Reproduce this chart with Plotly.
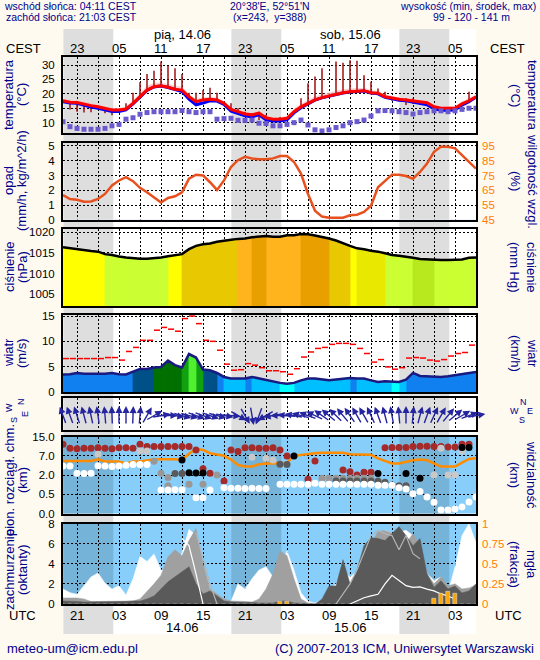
import numpy as np
import pandas as pd
import plotly.graph_objects as go

# ---------------- DATA ----------------
times = pd.date_range("2013-06-13 19:00", periods=60, freq="h")      # UTC
grid_times = pd.date_range("2013-06-13 21:00", "2013-06-16 03:00", freq="3h")
label_times = pd.date_range("2013-06-13 21:00", "2013-06-16 03:00", freq="6h")
cest_labels = ["23", "05", "11", "17", "23", "05", "11", "17", "23", "05"]
utc_labels = ["21", "03", "09", "15", "21", "03", "09", "15", "21", "03"]
day_centers = ["2013-06-14 12:00", "2013-06-15 12:00"]
day_labels_top = ["pią, 14.06", "sob, 15.06"]
day_labels_bottom = ["14.06", "15.06"]
sunset_utc = ["2013-06-13 19:03", "2013-06-14 19:03", "2013-06-15 19:03"]
sunrise_utc = ["2013-06-14 02:11", "2013-06-15 02:11", "2013-06-16 02:11"]

temp = [17.6,17.1,17.0,16.4,15.9,15.5,15.0,14.4,14.4,14.7,16.7,19.0,21.3,22.5,22.8,22.3,21.6,21.3,19.0,17.3,
        17.9,18.1,17.9,16.7,14.6,13.8,13.0,12.7,13.3,11.7,11.2,11.2,11.5,13.8,15.5,16.7,17.9,18.7,19.3,20.0,
        20.4,20.7,21.0,21.1,20.4,20.2,19.0,18.5,18.1,17.9,17.6,17.3,16.9,15.5,15.0,15.0,15.0,16.5,17.6,19.0]
temp_ground = [17.3,16.8,16.7,16.0,15.4,15.0,14.5,13.9,13.9,14.4,16.5,18.9,21.2,22.4,22.7,22.2,21.4,20.8,18.2,16.2,
               16.8,17.6,17.5,16.3,14.0,13.2,12.4,12.0,12.7,11.0,10.6,10.6,11.0,13.4,15.2,16.5,17.8,18.6,19.2,19.9,
               20.3,20.6,20.9,21.0,20.3,20.0,18.8,18.2,17.8,17.6,17.2,16.8,16.2,14.8,14.3,14.3,14.4,16.1,17.3,18.8]
temp_spread_hi = [18.3,17.9,17.8,17.2,16.6,16.2,15.7,15.1,15.1,15.6,17.8,20.3,22.8,23.8,23.9,23.4,22.8,22.5,20.0,18.2,
                  18.8,19.0,18.7,17.4,15.3,14.5,13.7,13.4,14.0,12.4,11.9,11.9,12.3,14.8,16.6,17.9,19.1,19.9,20.5,21.2,
                  21.6,21.9,22.1,22.1,21.3,21.0,19.8,19.2,18.8,18.6,18.3,18.0,17.6,16.2,15.7,15.7,15.7,17.3,18.5,19.8]
temp_spread_lo = [17.0,16.5,16.4,15.7,15.1,14.7,14.2,13.6,13.6,14.1,16.2,18.6,20.9,22.1,22.4,21.9,21.1,20.5,17.9,15.9,
                  16.5,17.3,17.2,16.0,13.7,12.9,12.1,11.7,12.4,10.7,10.3,10.3,10.7,13.1,14.9,16.2,17.5,18.3,18.9,19.6,
                  20.0,20.3,20.6,20.7,20.0,19.7,18.5,17.9,17.5,17.3,16.9,16.5,15.9,14.5,14.0,14.0,14.1,15.8,17.0,18.5]
dew_point = [10.3,8.6,8.0,7.7,7.7,7.7,8.0,8.9,9.4,11.2,11.7,12.9,13.5,13.8,13.8,13.8,13.8,14.2,13.8,13.5,
             13.8,13.8,11.2,11.4,11.5,10.8,10.8,10.9,9.8,9.7,8.9,8.9,9.4,10.0,10.9,9.2,7.5,7.1,7.5,8.3,
             8.9,10.0,10.35,10.9,12.3,14.1,14.2,14.1,13.8,13.5,13.0,13.5,13.8,14.1,14.1,13.8,14.1,14.6,15.0,15.0]
# range bars (hour index, low, high)
temp_range = [(1,14.6,17.1),(2,13.8,17.0),(3,13.5,16.4),(4,13.6,15.9),(6,13.3,15.0),(7,12.6,14.4),(9,14.7,16.7),
              (10,16.7,20.4),(11,19.0,24.0),(12,21.3,26.9),(13,22.5,28.0),(14,22.8,31.2),(15,22.3,29.7),
              (16,21.6,28.9),(17,21.3,26.9),(18,19.0,20.4),(19,17.3,20.4),(20,17.9,21.3),(21,18.1,22.1),
              (22,17.9,20.4),(24,13.8,16.7),(25,12.7,15.0),(26,12.4,13.8),(27,11.2,13.3),(28,10.9,13.8),
              (29,9.8,12.7),(31,10.5,12.0),(34,15.5,18.5),(35,16.7,23.7),(36,17.9,26.0),(37,18.7,28.9),
              (39,20.0,31.2),(40,20.4,30.8),(41,20.7,31.7),(42,21.0,31.5),(43,21.1,26.5),(44,20.4,24.2),
              (45,20.2,21.9),(46,19.0,20.7),(47,17.6,18.5),(49,16.1,18.5),(50,16.5,18.5),(51,16.1,17.3),
              (58,17.6,20.7)]

precip = [0.0] * 60
humidity = [61.9,59.2,58.7,57.3,57.5,59.2,62.6,68.3,71.7,74.0,71.2,66.7,63.7,60.3,56.8,59.9,61.0,63.7,72.9,75.6,
            75.1,70.5,65.3,71.7,80.8,85.4,87.7,86.6,86.0,86.0,86.6,88.2,88.2,84.2,76.3,62.6,51.2,47.3,46.6,46.6,
            46.6,48.2,48.6,50.5,54.6,67.1,71.7,75.6,75.6,74.7,72.9,77.4,83.1,91.1,94.5,94.5,93.4,88.8,84.7,79.7]

pressure = [1016.35,1016.1,1015.9,1015.7,1015.45,1015.3,1014.7,1014.5,1014.1,1013.9,1013.7,1013.6,1013.6,1013.7,
            1013.9,1014.2,1014.5,1014.7,1015.9,1016.7,1017.1,1017.3,1017.7,1018.0,1018.2,1018.4,1018.5,1018.8,
            1018.9,1019.1,1018.9,1018.9,1019.3,1019.3,1019.6,1019.5,1019.2,1018.9,1018.5,1018.0,1017.3,1016.7,
            1016.1,1015.9,1015.5,1015.3,1014.9,1014.5,1014.3,1014.1,1013.8,1013.5,1013.4,1013.3,1013.3,1013.3,
            1013.3,1013.4,1013.8,1013.9]
# fill class of each hourly interval (0..6)
pressure_class = [0,0,0,0,0,0,1,1,1,1,1,1,1,1,1,0,0,4,4,4,4,4,4,4,4,5,5,6,6,5,5,5,5,5,6,6,6,6,4,4,4,0,3,3,3,3,
                  1,1,1,1,2,2,2,1,1,1,1,1,1]

wind = [3.45,3.5,3.77,3.6,3.6,3.6,3.6,3.77,3.5,3.45,3.96,4.55,4.55,4.83,4.95,6.2,5.3,4.83,7.5,6.8,
        4.43,4.3,3.77,2.97,2.65,2.65,2.65,2.97,2.65,2.3,2.1,1.8,1.65,1.8,2.3,2.65,2.65,2.45,2.3,2.45,
        2.65,2.77,2.65,2.65,2.3,1.98,2.1,1.98,1.98,2.45,3.77,3.17,3.1,2.97,2.97,3.1,3.3,3.64,3.77,3.96]
wind_class = [2,2,2,2,2,2,2,2,2,2,3,3,3,4,4,4,4,5,6,5,3,3,2,1,1,1,2,1,1,1,1,0,0,1,1,1,1,1,1,1,1,2,1,1,1,1,
              1,0,1,2,2,2,2,2,2,2,2,2,2]
gust = [6.6,6.6,6.6,6.6,6.6,6.6,6.8,6.8,6.3,8.0,8.8,10.2,10.2,12.2,12.75,12.4,12.0,14.5,15.0,13.5,10.2,10.0,
        8.25,5.5,4.3,4.4,5.6,5.3,4.8,4.2,4.2,4.0,3.5,4.6,6.9,7.9,8.6,8.8,9.4,9.6,9.6,9.4,8.6,7.6,5.9,6.4,
        4.95,4.5,4.8,6.7,6.8,6.7,6.3,6.1,6.4,7.1,7.6,7.8,9.25]
wind_dir = [160,160,162,165,168,172,175,178,180,180,182,185,210,240,260,270,280,285,285,290,290,290,285,280,
            275,300,330,350,20,60,80,90,95,100,105,110,115,125,130,135,140,145,150,150,155,160,165,170,175,180,
            185,195,200,205,210,220,230,240,250,260]

visibility = [16,16,16,16,16,17.3,15.5,15.5,15.5,14,15.5,15.5,16.7,17.3,17.3,17.3,17.3,16.7,28,48.8,
              44,30.4,24,20,17,12.8,11.6,11.6,13.3,14,14,14,14.5,19.9,24,28,30.4,32.8,32.8,32.8,
              32.8,26.4,26.4,26.4,24,18,16,14,14,15.2,16.5,17,16.5,14,11.6,11.6,11.6,14.6,17.5,18]
cb_red = [(0,11.8),(1,10.1),(2,9.9),(3,10.1),(4,10.1),(5,10.3),(6,10.1),(7,9.9),(8,10.3),(9,10.3),(10,10.1),
          (11,11.8),(12,10.8),(13,10.8),(14,10.8),(15,10.8),(16,10.8),(17,10.8),(18,10.8),(19,9.4),(20,3.6),
          (21,2.45),(23,1.54),(24,9.4),(25,8.8),(26,10.3),(27,10.3),(28,10.1),(29,10.1),(30,10.3),(31,9.4),
          (32,6.95),(35,1.66),(36,5.65),(40,3.3),(41,2.85),(42,2.0),(43,2.7),(44,2.7),(46,10.3),(47,10.4),
          (48,10.4),(49,10.4),(50,10.8),(51,10.9),(52,10.9),(53,10.8),(54,10.8),(55,10.6),(56,10.6),(57,11.8),(58,11.8)]
cb_lgrey = [(5,7.6),(11,9.0),(12,9.0),(27,6.6),(29,6.35),(30,5.9),(53,2.0),(54,10.1),(55,2.0),(56,2.0),(57,9.0)]
cb_grey = [(13,5.6),(14,2.45),(15,1.8),(15,1.17),(18,1.27),(20,1.27),(22,2.0),(37,1.74),(38,1.74),(39,1.74),
           (40,1.74),(41,1.74),(42,1.74),(43,1.74),(44,1.74)]
cb_dgrey = [(16,2.4),(17,2.4),(31,4.8),(32,4.7),(39,1.54),(40,1.54),(41,1.54),(42,1.54),(43,1.54),(44,1.54),
            (45,1.54),(46,1.43),(47,1.22),(48,1.17),(49,1.17)]
cb_black = [(17,5.9),(18,2.6),(19,2.5),(20,2.5),(33,6.95),(45,2.4),(49,2.4),(51,1.74),(57,10.4),(58,10.4)]
cb_white = [(0,4.35),(1,4.35),(2,2.45),(3,2.4),(4,2.45),(5,4.4),(6,4.35),(7,4.2),(8,4.35),(9,4.55),(10,4.7),
            (11,4.7),(12,4.7),(14,0.83),(15,0.83),(16,0.85),(17,0.85),(19,0.41),(20,0.41),(21,0.83),(23,1.0),
            (24,0.97),(25,0.97),(26,0.95),(27,0.97),(28,0.95),(29,0.95),(31,1.27),(32,1.27),(33,1.27),(34,1.27),
            (35,1.27),(36,1.35),(37,1.27),(38,1.27),(39,1.27),(40,1.27),(41,1.27),(42,1.27),(43,1.27),(44,1.27),
            (45,1.2),(46,1.2),(47,1.2),(48,1.0),(49,0.9),(50,0.53),(51,0.72),(52,0.43),(53,0.29),(54,0.09),
            (55,0.09),(56,0.115),(57,0.17),(58,0.3),(59,0.43)]
cb_ticks_km = [0.0, 0.5, 2.0, 7.0, 15.0]
vis_ticks_km = [0, 1, 5, 20, 100]

cloud_total = [1.48,1.13,0.96,1.82,2.68,3.09,2.06,1.48,1.82,0.89,2.5,4.74,4.23,4.98,3.37,3.37,3.44,5.09,7.42,6.8,
               3.71,1.48,0.79,0.1,0.27,1.99,1.48,2.51,3.37,3.71,2.68,3.78,5.26,3.37,1.13,0.27,0.1,0.45,1.48,1.99,
               3.2,2.68,3.2,4.91,6.53,6.63,7.32,6.98,7.15,7.32,6.8,5.6,3.02,2.34,2.68,1.13,3.71,6.8,8.0,6.1]
cloud_high = [0.6,0.6,0.6,0.5,0.25,0.25,0.25,0.25,0.25,0.25,0.3,0.5,1.2,2.0,2.85,4.7,5.4,4.8,6.3,7.5,
              4.0,1.5,1.0,0.5,0.3,0.3,0.25,0.2,0.5,1.5,3.0,5.3,4.8,2.5,0.5,0.1,0.05,0.1,0.5,1.5,
              2.5,1.0,2.0,3.5,6.0,7.2,7.3,7.0,6.7,6.0,7.0,5.8,3.0,2.0,2.7,1.8,2.0,1.5,1.6,1.9]
cloud_low = [0.3,0.3,0.25,0.2,0.2,0.2,0.2,0.2,0.2,0.25,0.3,0.3,0.5,0.8,1.5,2.2,2.7,3.2,3.7,2.0,
             1.0,1.3,0.8,0.3,0.2,0.2,0.2,0.15,0.1,0.1,0.1,0.3,0.3,0.1,0.05,0.0,0.0,0.5,1.8,1.8,
             4.4,2.0,3.4,5.8,6.6,6.5,6.3,7.0,7.7,6.8,5.8,6.5,3.0,1.65,2.3,1.5,1.8,1.1,1.3,2.0]
_ = None
cloud_line_white = [_,_,_,_,_,_,_,_,_,_,_,_,_,_,_,_,_,6.5,5.8,3.0,0.0,_,_,_,_,_,_,_,_,_,
                    _,_,_,_,_,_,_,_,_,_,_,0.0,0.3,0.62,0.8,0.96,2.0,2.85,2.34,1.82,1.65,1.7,1.48,1.3,1.0,0.79,0.5,_,_,_]
cloud_line_grey = [_,_,_,_,_,_,_,_,_,_,_,_,_,_,_,_,_,_,_,7.1,4.5,2.0,0.0,_,_,_,_,_,_,_,
                   _,_,_,_,_,_,_,_,_,0.0,0.96,2.0,3.37,5.0,6.8,7.3,7.0,6.8,5.4,6.8,5.0,4.5,_,_,_,_,_,_,_,_]
fog = [0,0,0,0,0,0,0,0,0,0,0,0,0,0,0,0,0,0,0,0,0,0,0,0,0,0,0,0,0,0,0,0.026,0.026,0,0,0,0,0,0,0,
       0,0,0,0,0,0,0,0,0,0,0,0,0,0.064,0.13,0.155,0.13,0,0,0]

# ---------------- STYLE / LAYOUT ----------------
W, H = 540, 660
FONT = "Liberation Sans, Arial, sans-serif"
NAVY = "#00008B"
ORANGE = "#FF8000"
BG = "#FFFAF0"
DASH = "2px,2px"
TICK = 11.5
XDOM = [63 / W, 476 / W]
PANELS = {1: (57, 133), 2: (143, 220), 3: (229, 306), 4: (315, 392), 5: (398, 430), 6: (436.5, 513.5), 7: (523.5, 604)}
TOP, BOTTOM = 29, 634

def ydom(k):
    a, b = PANELS[k]
    return [1 - b / H, 1 - a / H]

def pick(seq, idx):
    return [seq[i] for i in idx]

fig = go.Figure()

# --- panel 1: temperature
fig.add_trace(go.Scatter(x=times, y=temp_spread_lo, mode="lines", line=dict(width=0), xaxis="x", yaxis="y", hoverinfo="skip"))
fig.add_trace(go.Scatter(x=times, y=temp_spread_hi, mode="lines", line=dict(width=0), fill="tonexty",
                         fillcolor="rgba(255,190,190,0.75)", xaxis="x", yaxis="y", hoverinfo="skip"))
rx, ry = [], []
for h, lo, hi in temp_range:
    rx += [times[h], times[h], None]
    ry += [lo, hi, None]
fig.add_trace(go.Scatter(x=rx, y=ry, mode="lines", line=dict(color="#A01010", width=1.5), xaxis="x", yaxis="y"))
fig.add_trace(go.Scatter(x=times, y=temp_ground, mode="lines", line=dict(color="#0000FF", width=3), xaxis="x", yaxis="y"))
fig.add_trace(go.Scatter(x=times, y=temp, mode="lines", line=dict(color="#FF0000", width=3), xaxis="x", yaxis="y"))
fig.add_trace(go.Scatter(x=times, y=dew_point, mode="markers", marker=dict(symbol="square", size=5, color="#6A5ACD"),
                         xaxis="x", yaxis="y"))

# --- panel 2: precipitation (zero) + humidity
fig.add_trace(go.Bar(x=times, y=precip, marker_color="#00A000", xaxis="x2", yaxis="y2"))
fig.add_trace(go.Scatter(x=times, y=humidity, mode="lines", line=dict(color="#E8501E", width=2.5), xaxis="x2", yaxis="y9"))

# --- helper for class-coloured area under a curve
def class_area(vals, classes, palette, base, xa, ya):
    groups = {}
    for i in range(len(times) - 1):
        gx, gy = groups.setdefault(classes[i], ([], []))
        gx += [times[i], times[i], times[i + 1], times[i + 1], times[i], None]
        gy += [base, vals[i], vals[i + 1], base, base, None]
    for c, (gx, gy) in groups.items():
        fig.add_trace(go.Scatter(x=gx, y=gy, mode="lines", fill="toself", fillcolor=palette[c],
                                 line=dict(color=palette[c], width=0.8), xaxis=xa, yaxis=ya, hoverinfo="skip"))

# --- panel 3: pressure
P_RANGE = [1002.1, 1020.8]
p_palette = ["#FFFF00", "#CCFF33", "#B8E81E", "#E8E800", "#E8C800", "#FFB41E", "#E8A000"]
class_area(pressure, pressure_class, p_palette, P_RANGE[0], "x3", "y3")
fig.add_trace(go.Scatter(x=times, y=pressure, mode="lines", line=dict(color="black", width=2.5), xaxis="x3", yaxis="y3"))

# --- panel 4: wind
w_palette = ["#00FFFF", "#00BFFF", "#1080F0", "#005088", "#007000", "#10A010", "#50F030"]
class_area(wind, wind_class, w_palette, 0, "x4", "y4")
fig.add_trace(go.Scatter(x=times, y=wind, mode="lines", line=dict(color="#1A1A80", width=2.5), xaxis="x4", yaxis="y4"))
gx, gy = [], []
for i, g in enumerate(gust):
    gx += [times[i], times[i] + pd.Timedelta(minutes=52), None]
    gy += [g, g, None]
fig.add_trace(go.Scatter(x=gx, y=gy, mode="lines", line=dict(color="#FF0000", width=1.5), xaxis="x4", yaxis="y4"))

# --- panel 6: cloud base / visibility
def cb_pos(v):
    return list(np.interp(v, cb_ticks_km, [0, 1, 2, 3, 4]))

fig.add_trace(go.Scatter(x=times, y=list(np.interp(visibility, vis_ticks_km, [0, 1, 2, 3, 4])), mode="lines",
                         line=dict(color="#FF8C00", width=2.5), xaxis="x6", yaxis="y6"))
for pts, col in [(cb_red, "#A52A2A"), (cb_lgrey, "#C8C8C8"), (cb_grey, "#989898"), (cb_dgrey, "#5A5A5A"),
                 (cb_black, "#000000"), (cb_white, "#FFFFFF")]:
    hh = [p[0] for p in pts]
    kk = [p[1] for p in pts]
    fig.add_trace(go.Scatter(x=pick(times, hh), y=cb_pos(kk), mode="markers",
                             marker=dict(size=7, color=col, line=dict(width=0)), xaxis="x6", yaxis="y6"))

# --- panel 7: cloud cover / fog
for vals, col in [(cloud_total, "#FFFFFF"), (cloud_high, "#A0A0A0"), (cloud_low, "#5A5A5A")]:
    fig.add_trace(go.Scatter(x=times, y=vals, mode="lines", fill="tozeroy", fillcolor=col,
                             line=dict(color=col, width=0.5), xaxis="x7", yaxis="y7", hoverinfo="skip"))
fig.add_trace(go.Scatter(x=times, y=cloud_line_grey, mode="lines", line=dict(color="#B4B4B4", width=1.2),
                         connectgaps=False, xaxis="x7", yaxis="y7"))
fig.add_trace(go.Scatter(x=times, y=cloud_line_white, mode="lines", line=dict(color="#FFFFFF", width=1.2),
                         connectgaps=False, xaxis="x7", yaxis="y7"))
fig.add_trace(go.Bar(x=times, y=fog, width=0.55 * 3600e3, marker_color="#FFA500", xaxis="x7", yaxis="y14"))

# ---------------- AXES ----------------
lay = dict(width=W, height=H, margin=dict(l=0, r=0, t=0, b=0, autoexpand=False), paper_bgcolor=BG,
           plot_bgcolor="rgba(0,0,0,0)", showlegend=False, bargap=0,
           font=dict(family=FONT, size=12, color="black"))

for k in range(1, 8):
    xn = "xaxis" if k == 1 else f"xaxis{k}"
    lay[xn] = dict(domain=XDOM, anchor="y" if k == 1 else f"y{k}", range=[times[0], times[-1]], type="date",
                   tickmode="array", tickvals=list(grid_times), showgrid=True, gridcolor="black", griddash=DASH,
                   gridwidth=1, showline=True, linecolor="black", linewidth=2, mirror=True, ticks="",
                   zeroline=False, showticklabels=False)

def yax(k, rng, tv, tt=None, grid=True):
    d = dict(domain=ydom(k), anchor="x" if k == 1 else f"x{k}", range=rng, tickmode="array", tickvals=tv,
             showgrid=grid, gridcolor="black", griddash=DASH, gridwidth=1, showline=True, linecolor="black",
             linewidth=2, mirror=True, ticks="", zeroline=False, tickfont=dict(size=TICK), ticklabelstandoff=4)
    if tt is not None:
        d["ticktext"] = tt
    if not tv:
        d["showticklabels"] = False
    return d

def yright(k, rng, tv, tt=None, color="black"):
    d = dict(domain=ydom(k), anchor="x" if k == 1 else f"x{k}", overlaying="y" if k == 1 else f"y{k}",
             side="right", range=rng, tickmode="array", tickvals=tv, showgrid=False, zeroline=False,
             showline=False, ticks="", tickfont=dict(size=TICK, color=color), ticklabelstandoff=5)
    if tt is not None:
        d["ticktext"] = tt
    return d

T_RANGE = [6.4, 32.8]
R_RANGE = [0, 5.2]
W_RANGE = [0, 15.2]
t_ticks = [10, 15, 20, 25, 30]
r_ticks = [0, 1, 2, 3, 4, 5]
h_ticks = [45, 55, 65, 75, 85, 95]
p_ticks = [1005, 1010, 1015, 1020]
w_ticks = [0, 5, 10, 15]
lay["yaxis"] = yax(1, T_RANGE, t_ticks)
lay["yaxis2"] = yax(2, R_RANGE, r_ticks)
lay["yaxis3"] = yax(3, P_RANGE, p_ticks)
lay["yaxis4"] = yax(4, W_RANGE, w_ticks)
lay["yaxis5"] = yax(5, [0, 1], [], grid=False)
lay["yaxis6"] = yax(6, [0, 4], [0, 1, 2, 3, 4], [f"{v:.1f}" for v in cb_ticks_km])
lay["yaxis7"] = yax(7, [0, 8], [0, 2, 4, 6, 8])
lay["yaxis8"] = yright(1, T_RANGE, t_ticks)
lay["yaxis9"] = yright(2, [45 + 10 * R_RANGE[0], 45 + 10 * R_RANGE[1]], h_ticks, color=ORANGE)
lay["yaxis10"] = yright(3, P_RANGE, p_ticks, [f"{p * 0.750062:.0f}" for p in p_ticks])
lay["yaxis11"] = yright(4, W_RANGE, w_ticks, [f"{w * 3.6:.0f}" for w in w_ticks])
lay["yaxis13"] = yright(6, [0, 4], [0, 1, 2, 3, 4], [str(v) for v in vis_ticks_km], color=ORANGE)
lay["yaxis14"] = yright(7, [0, 1], [0, 0.25, 0.5, 0.75, 1], ["0", "0.25", "0.5", "0.75", "1"], color=ORANGE)
fig.update_layout(**lay)

# ---------------- SHAPES (backgrounds) ----------------
shapes = [dict(type="rect", xref="x", yref="paper", x0=times[0], x1=times[-1], y0=1 - BOTTOM / H, y1=1 - TOP / H,
               fillcolor="white", line=dict(width=0), layer="below")]
for k in (6, 7):
    y0, y1 = ydom(k)
    shapes.append(dict(type="rect", xref="x", yref="paper", x0=times[0], x1=times[-1], y0=y0, y1=y1,
                       fillcolor="#87CEFA", line=dict(width=0), layer="below"))
for s, e in zip(sunset_utc, sunrise_utc):
    shapes.append(dict(type="rect", xref="x", yref="paper", x0=s, x1=e, y0=1 - BOTTOM / H, y1=1 - TOP / H,
                       fillcolor="rgba(0,0,0,0.13)", line=dict(width=0), layer="below"))
fig.update_layout(shapes=shapes)

# ---------------- TEXT ----------------
def txt(x, y, s, size=12, color=NAVY, angle=0, xanchor="center"):
    fig.add_annotation(x=x / W, y=1 - y / H, xref="paper", yref="paper", text=s, showarrow=False,
                       font=dict(size=size, color=color, family=FONT), textangle=angle,
                       xanchor=xanchor, yanchor="middle")

def time_label(t, y, s, size=13):
    fig.add_annotation(x=t, xref="x", y=1 - y / H, yref="paper", text=s, showarrow=False,
                       font=dict(size=size, family=FONT, color="black"), yanchor="middle")

txt(2, 6, "wschód słońca: 04:11 CEST", 10.5, xanchor="left")
txt(4, 17, "zachód słońca: 21:03 CEST", 10.5, xanchor="left")
txt(270, 6, "20°38'E, 52°51'N", 10.5)
txt(270, 17, "(x=243,  y=388)", 10.5)
txt(538, 6, "wysokość (min, środek, max)", 10.5, xanchor="right")
txt(471, 17, "99 - 120 - 141 m", 10.5)
txt(5, 648, "meteo-um@icm.edu.pl", 13, xanchor="left")
txt(536, 648, "(C) 2007-2013 ICM, Uniwersytet Warszawski", 13, xanchor="right")
txt(23, 48, "CEST", 13, "black")
txt(507, 48, "CEST", 13, "black")
txt(22, 615, "UTC", 13, "black")
txt(508, 615, "UTC", 13, "black")
for t, s in zip(label_times, cest_labels):
    time_label(t, 48.5, s)
for t, s in zip(label_times, utc_labels):
    time_label(t, 615, s)
for t, s in zip(day_centers, day_labels_top):
    time_label(t, 35, s)
for t, s in zip(day_centers, day_labels_bottom):
    time_label(t, 627.5, s)

left_titles = [(95, "temperatura", "(°C)"), (181, "opad", "(mm/h, kg/m^2/h)"), (267, "ciśnienie", "(hPa)"),
               (353, "wiatr", "(m/s)"), (480, "pion. rozciągł. chm.", "(km)"), (570, "zachmurzenie", "(oktanty)")]
for yc, a, b in left_titles:
    txt(9, yc, a, 13, angle=-90)
    txt(22, yc, b, 13, angle=-90)
right_titles = [(95, "(°C)", "temperatura"), (181, "(%)", "wilgotność wzgl."), (267, "(mm Hg)", "ciśnienie"),
                (353, "(km/h)", "wiatr"), (475, "(km)", "widzialność"), (564, "(frakcja)", "mgła")]
for yc, a, b in right_titles:
    txt(515, yc, a, 13, angle=90)
    txt(532, yc, b, 13, angle=90)
# compass glyphs
for (x, y, s) in [(21, 402, "N"), (9, 408, "W"), (25, 414, "E"), (14, 420, "S")]:
    txt(x, y, s, 9, angle=-90)
for (x, y, s) in [(523, 402, "N"), (514, 411, "W"), (530, 411, "E"), (522, 420, "S")]:
    txt(x, y, s, 9)

# ---------------- WIND ARROWS ----------------
L = 19
for i, d in enumerate(wind_dir):
    th = np.deg2rad((d + 180) % 360)
    vx, vy = L * np.sin(th), -L * np.cos(th)
    fig.add_annotation(x=times[i], y=0.45, xref="x5", yref="y5", text="", showarrow=True,
                       ax=-vx, ay=-vy, xshift=vx / 2, yshift=-vy / 2, arrowhead=2, arrowsize=1.0,
                       arrowwidth=1.4, arrowcolor="#2525A0")

fig.write_html("out.html", config={"displayModeBar": False},
               post_script="document.body.style.margin='0px';document.body.style.overflow='hidden';")
